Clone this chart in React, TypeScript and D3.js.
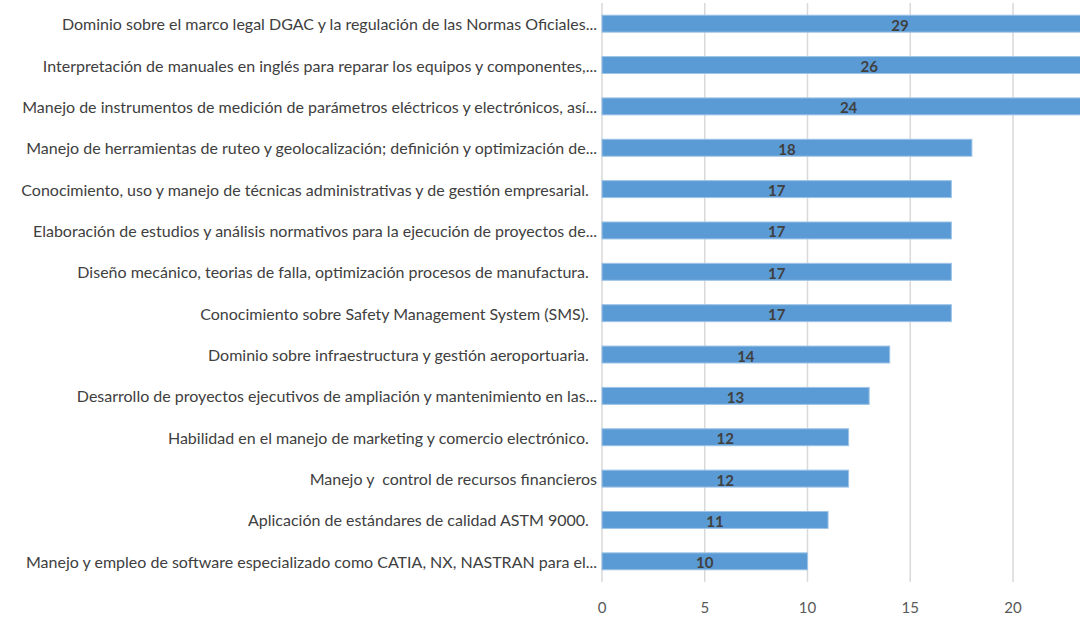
import React, { useEffect, useRef } from 'react';
import * as d3 from 'd3';

// competencias (de arriba hacia abajo) y número de menciones
const labels = [
  'Dominio sobre el marco legal DGAC y la regulación de las Normas Oficiales...',
  'Interpretación de manuales en inglés para reparar los equipos y componentes,...',
  'Manejo de instrumentos de medición de parámetros eléctricos y electrónicos, así...',
  'Manejo de herramientas de ruteo y geolocalización; definición y optimización de...',
  'Conocimiento, uso y manejo de técnicas administrativas y de gestión empresarial.  ',
  'Elaboración de estudios y análisis normativos para la ejecución de proyectos de...',
  'Diseño mecánico, teorias de falla, optimización procesos de manufactura.  ',
  'Conocimiento sobre Safety Management System (SMS).  ',
  'Dominio sobre infraestructura y gestión aeroportuaria.  ',
  'Desarrollo de proyectos ejecutivos de ampliación y mantenimiento en las...',
  'Habilidad en el manejo de marketing y comercio electrónico.  ',
  'Manejo y  control de recursos financieros',
  'Aplicación de estándares de calidad ASTM 9000.  ',
  'Manejo y empleo de software especializado como CATIA, NX, NASTRAN para el...',
];
const values = [29, 26, 24, 18, 17, 17, 17, 17, 14, 13, 12, 12, 11, 10];
const ticks = [0, 5, 10, 15, 20];

const FONT = 'Lato, "Open Sans", sans-serif';

function App() {
  const svgRef = useRef<SVGSVGElement>(null);

  useEffect(() => {
    const svg = d3.select(svgRef.current);
    svg.selectAll('*').remove();

    const x = d3.scaleLinear().domain([0, 20]).range([602, 1013]);
    const y = d3
      .scaleBand<number>()
      .domain(d3.range(labels.length))
      .range([3, 582])
      .paddingInner(0.59)
      .paddingOuter(0.295);

    // rejilla vertical (continúa fuera del recorte)
    svg
      .append('g')
      .selectAll('line')
      .data(ticks)
      .join('line')
      .attr('x1', (d) => x(d))
      .attr('x2', (d) => x(d))
      .attr('y1', 3)
      .attr('y2', 582)
      .attr('stroke', '#d9d9d9')
      .attr('stroke-width', 1.5);

    // etiquetas del eje x
    svg
      .append('g')
      .selectAll('text')
      .data(ticks)
      .join('text')
      .attr('x', (d) => x(d))
      .attr('y', 607)
      .attr('text-anchor', 'middle')
      .attr('dominant-baseline', 'central')
      .attr('font-family', FONT)
      .attr('font-size', 15)
      .attr('fill', '#595959')
      .text((d) => d);

    // barras
    svg
      .append('g')
      .selectAll('rect')
      .data(values)
      .join('rect')
      .attr('x', x(0))
      .attr('y', (d, i) => y(i)!)
      .attr('width', (d) => x(d) - x(0))
      .attr('height', y.bandwidth())
      .attr('fill', '#5b9bd5')
      .attr('stroke', '#9dc3e6')
      .attr('stroke-width', 1);

    // valores en el centro de cada barra
    svg
      .append('g')
      .selectAll('text')
      .data(values)
      .join('text')
      .attr('x', (d) => x(d / 2))
      .attr('y', (d, i) => y(i)! + y.bandwidth() / 2 + 1)
      .attr('text-anchor', 'middle')
      .attr('dominant-baseline', 'central')
      .attr('font-family', FONT)
      .attr('font-size', 15)
      .attr('font-weight', 'bold')
      .attr('fill', '#404040')
      .text((d) => d);

    // etiquetas de categorías
    svg
      .append('g')
      .selectAll('text')
      .data(labels)
      .join('text')
      .attr('x', 597)
      .attr('y', (d, i) => y(i)! + y.bandwidth() / 2)
      .attr('text-anchor', 'end')
      .attr('dominant-baseline', 'central')
      .attr('xml:space', 'preserve')
      .attr('font-family', FONT)
      .attr('font-size', 16)
      .attr('fill', '#404040')
      .style('white-space', 'pre')
      .text((d) => d);
  }, []);

  return (
    <svg
      ref={svgRef}
      width={1080}
      height={618}
      style={{ position: 'absolute', left: 0, top: 0, background: '#fff' }}
    />
  );
}

export default App;
